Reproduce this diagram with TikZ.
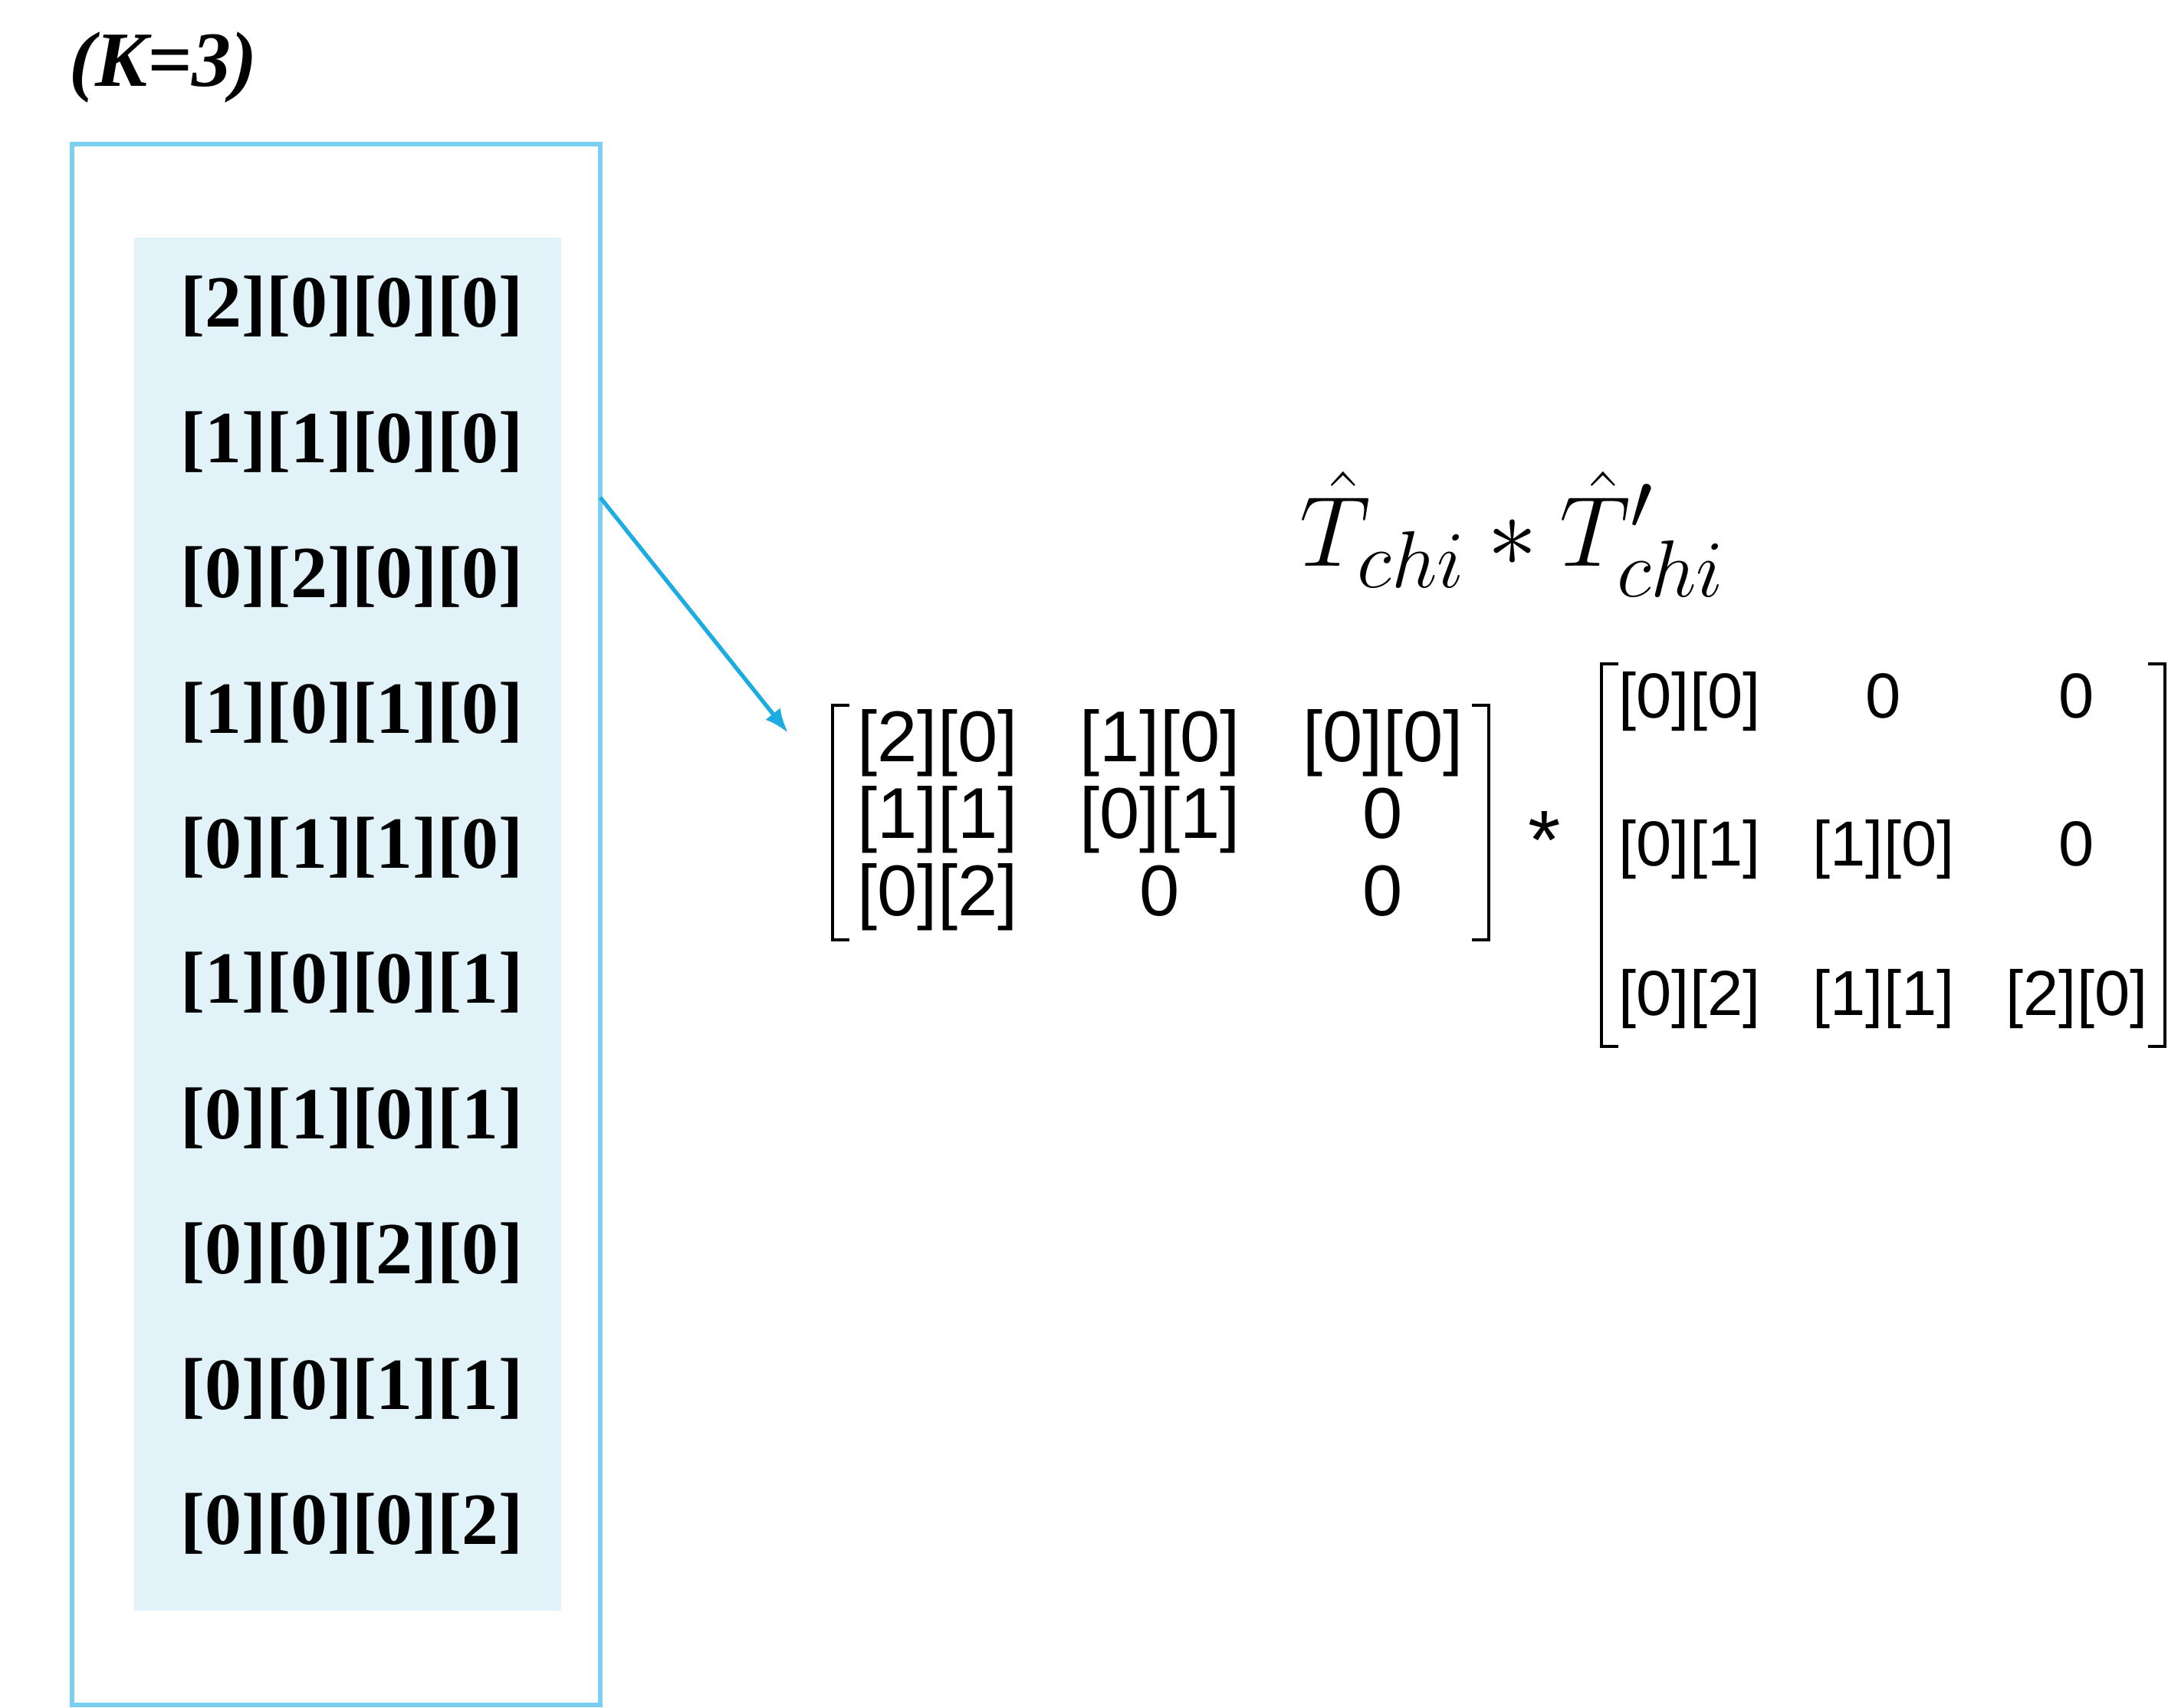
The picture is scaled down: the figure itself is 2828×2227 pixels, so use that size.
\RequirePackage{fix-cm}
\documentclass[tikz,border=0pt]{standalone}
\usepackage{fontspec}
\usepackage{amsmath}
\usetikzlibrary{arrows.meta,calc}
\newfontfamily\listfont{Liberation Serif}
\newfontfamily\cellfont{Liberation Sans}
\definecolor{framecol}{HTML}{7BCFF0}
\definecolor{arrowcol}{HTML}{1BACE2}
\definecolor{panelcol}{HTML}{E1F2F9}
\DeclareMathSizes{37}{37}{30}{22}

\begin{document}
\begin{tikzpicture}
[
	x=0.01cm, y=-0.01cm,
	row/.style={inner sep=0pt, font=\listfont\bfseries\fontsize{27.3}{30}\selectfont},
	cell/.style={inner sep=0pt, anchor=base, font=\cellfont\fontsize{26.7}{30}\selectfont},
	smallcell/.style={cell, font=\cellfont\fontsize{23.6}{28}\selectfont},
	bracket/.style={line width=1pt},
	link/.style={-{Latex[length=9pt,width=7pt]}, draw=arrowcol, line width=1.5pt},
]
	\useasboundingbox (0,0) rectangle (2828,2227);

	\begin{scope}
		\node[anchor=base west, inner sep=0pt, font=\listfont\bfseries\itshape\fontsize{29}{32}\selectfont] (kval) at (90,112) {(K=3)};
		\fill[panelcol] (175,310) rectangle (732,2101);
		\draw[framecol, line width=1.5pt] (94,188) rectangle (783,2224);
		\foreach \txt [count=\i from 0] in {[2][0][0][0],[1][1][0][0],[0][2][0][0],[1][0][1][0],[0][1][1][0],[1][0][0][1],[0][1][0][1],[0][0][2][0],[0][0][1][1],[0][0][0][2]}
			\node[row] (r\i) at (459,{400+176.4*\i}) {\txt};
	\end{scope}

	\begin{scope}
		\coordinate (src) at (783,649);
		\coordinate (tip) at (1028,956);
		\draw[link] (src) -- (tip);
	\end{scope}

	\begin{scope}
		\node[anchor=base, inner sep=0pt, font=\fontsize{37}{40}\selectfont] (prod) at (1973,738) {$\hat{T}_{chi} * {\hat{T}'}_{chi}$};
	\end{scope}

	\begin{scope}
		\node[cell] (a11) at (1223,993) {[2][0]};
		\node[cell] (a12) at (1513,993) {[1][0]};
		\node[cell] (a13) at (1804,993) {[0][0]};
		\node[cell] (a21) at (1223,1093) {[1][1]};
		\node[cell] (a22) at (1513,1093) {[0][1]};
		\node[cell] (a23) at (1804,1093) {0};
		\node[cell] (a31) at (1223,1194) {[0][2]};
		\node[cell] (a32) at (1513,1194) {0};
		\node[cell] (a33) at (1804,1194) {0};
		\draw[bracket] (1108,920) -- (1086,920) -- (1086,1226) -- (1108,1226);
		\draw[bracket] (1920,920) -- (1942,920) -- (1942,1226) -- (1920,1226);
		\node[cell, anchor=center, font=\cellfont\fontsize{31}{34}\selectfont] (times) at (2015,1096) {*};
	\end{scope}

	\begin{scope}
		\node[smallcell] (b11) at (2204,936) {[0][0]};
		\node[smallcell] (b12) at (2457,936) {0};
		\node[smallcell] (b13) at (2709,936) {0};
		\node[smallcell] (b21) at (2204,1129) {[0][1]};
		\node[smallcell] (b22) at (2457,1129) {[1][0]};
		\node[smallcell] (b23) at (2709,1129) {0};
		\node[smallcell] (b31) at (2204,1324) {[0][2]};
		\node[smallcell] (b32) at (2457,1324) {[1][1]};
		\node[smallcell] (b33) at (2709,1324) {[2][0]};
		\draw[bracket] (2111,866) -- (2089,866) -- (2089,1365) -- (2111,1365);
		\draw[bracket] (2802,866) -- (2824,866) -- (2824,1365) -- (2802,1365);
	\end{scope}
\end{tikzpicture}
\end{document}
